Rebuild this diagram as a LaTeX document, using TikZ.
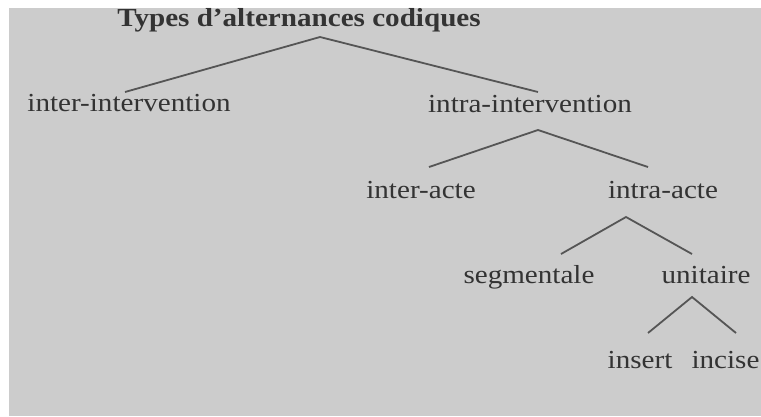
\documentclass[tikz,border=0pt]{standalone}
\usepackage{fontspec}
\setmainfont{Liberation Serif}[FakeStretch=1.12]
\definecolor{bggray}{HTML}{CCCCCC}
\definecolor{inkgray}{HTML}{333333}
\definecolor{linegray}{HTML}{555555}
\tikzset{
  lbl/.style={anchor=base,inner sep=0pt,text=inkgray,font=\fontsize{26}{30}\selectfont},
  branch/.style={draw=linegray,line width=1.8pt}
}
\begin{document}
\begin{tikzpicture}[x=1pt,y=-1pt]

  \useasboundingbox (0,0) rectangle (761,416);
  \fill[bggray] (9,8) rectangle (761,416);

  \node (title) at (299, 26.7) [lbl,font=\fontsize{26}{30}\selectfont\bfseries] {Types d'alternances codiques};
  \node (ie) at (129, 111.7) [lbl] {inter-intervention};
  \node (ia) at (530, 112) [lbl] {intra-intervention};
  \node (ea) at (421, 198) [lbl] {inter-acte};
  \node (aa) at (663, 198) [lbl] {intra-acte};
  \node (seg) at (529, 283) [lbl] {segmentale};
  \node (uni) at (706, 283) [lbl] {unitaire};
  \node (ins) at (640, 368) [lbl] {insert};
  \node (inc) at (725.5, 368) [lbl] {incise};

  \draw[branch] ([xshift=-4pt,yshift=19.7pt]ie.base) -- ([xshift=21pt,yshift=-10.3pt]title.base) -- ([xshift=8pt,yshift=20pt]ia.base);
  \draw[branch] ([xshift=8pt,yshift=31pt]ea.base) -- ([xshift=8pt,yshift=-18pt]ia.base) -- ([xshift=-15pt,yshift=31pt]aa.base);
  \draw[branch] ([xshift=32pt,yshift=29pt]seg.base) -- ([xshift=-37pt,yshift=-19pt]aa.base) -- ([xshift=-14pt,yshift=29pt]uni.base);
  \draw[branch] ([xshift=8pt,yshift=35pt]ins.base) -- ([xshift=-14pt,yshift=-14pt]uni.base) -- ([xshift=10.5pt,yshift=35pt]inc.base);

\end{tikzpicture}
\end{document}
